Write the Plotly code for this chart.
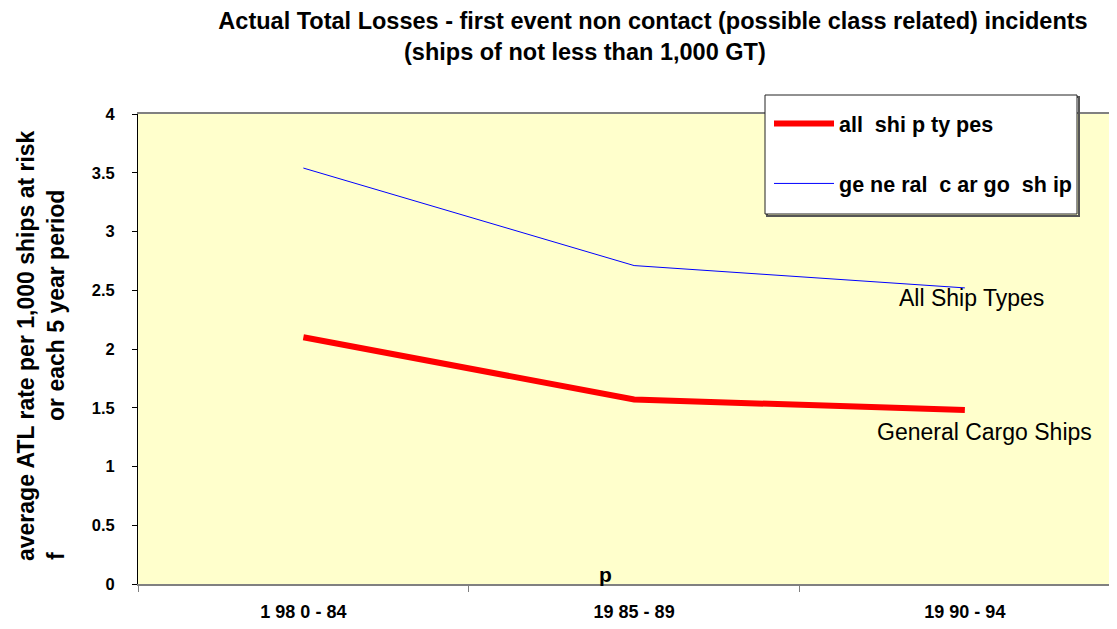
import plotly.graph_objects as go

periods = ["1 98 0 - 84", "19 85 - 89", "19 90 - 94"]
all_ship_types = [2.10, 1.57, 1.48]
general_cargo = [3.54, 2.71, 2.52]
legend_names = ["all  shi p ty pes", "ge ne ral  c ar go  sh ip"]
y_tickvals = [0, 0.5, 1, 1.5, 2, 2.5, 3, 3.5, 4]
y_ticktext = ["0", "0.5", "1", "1.5", "2", "2.5", "3", "3.5", "4"]

FONT = "Liberation Sans, Arial, sans-serif"

# The page body has an 8px margin; work in reference-pixel coords and convert.
OFF = 8
W, H = 1117 - OFF, 629 - OFF
PL, PR, PT, PB = 138, 1117, 114, 584   # plot area in reference pixels


def px(x):
    return (x - PL) / (PR - PL)


def py(y):
    return (PB - y) / (PB - PT)


fig = go.Figure()
fig.add_trace(go.Scatter(x=periods, y=all_ship_types, mode="lines", name=legend_names[0],
                         line=dict(color="#FF0000", width=6), legendgroup="a"))
fig.add_trace(go.Scatter(x=periods, y=general_cargo, mode="lines", name=legend_names[1],
                         line=dict(color="#0000FF", width=1), legendgroup="b"))

fig.update_layout(
    width=W, height=H,
    margin=dict(l=PL - OFF, r=0, t=PT - OFF, b=629 - PB),
    paper_bgcolor="white",
    plot_bgcolor="#FFFFCC",
    font=dict(family=FONT, color="black"),
    title=dict(text="<b>Actual Total Losses - first event non contact (possible class related) incidents</b>",
               x=(653 - OFF) / W, xanchor="center", xref="container",
               y=1 - (21 - OFF) / H, yanchor="middle", yref="container",
               font=dict(family=FONT, size=23.5, color="black")),
    showlegend=True,
    legend=dict(x=px(769), y=py(103), xanchor="left", yanchor="top",
                bgcolor="rgba(0,0,0,0)", borderwidth=0,
                font=dict(family=FONT, size=21.5, color="black", weight="bold"),
                itemwidth=60, tracegroupgap=29),
    xaxis=dict(type="category", range=[-0.5, 2.46], showgrid=False, zeroline=False,
               showline=True, linecolor="#808080", linewidth=2, mirror=True,
               ticks="outside", ticklen=6, tickcolor="#808080", tickson="boundaries",
               ticklabelstandoff=10,
               tickfont=dict(family=FONT, size=18, color="black", weight="bold")),
    yaxis=dict(range=[0, 4], showgrid=False, zeroline=False,
               showline=True, linecolor="black", linewidth=1,
               ticks="outside", ticklen=5, tickcolor="black",
               tickvals=y_tickvals, ticktext=y_ticktext, ticklabelstandoff=14,
               tickfont=dict(family=FONT, size=16.5, color="black", weight="bold")),
)

# legend frame
fig.add_shape(type="rect", xref="paper", yref="paper", layer="above",
              x0=px(767), x1=px(1079), y0=py(216), y1=py(97),
              line=dict(color="#555555", width=2), fillcolor="rgba(0,0,0,0)")
fig.add_shape(type="rect", xref="paper", yref="paper", layer="above",
              x0=px(765), x1=px(1077), y0=py(214), y1=py(95),
              line=dict(color="#222222", width=1), fillcolor="white")

annos = [
    dict(text="<b>(ships of not less than 1,000 GT)</b>", xref="paper", yref="paper",
         x=px(585), y=py(52), xanchor="center", yanchor="middle",
         font=dict(family=FONT, size=23.5)),
    dict(text="<b>average ATL rate per 1,000 ships at risk</b>", xref="paper", yref="paper",
         x=px(26), y=py(346), xanchor="center", yanchor="middle",
         textangle=-90, font=dict(family=FONT, size=23)),
    dict(text="<b>or each 5 year period</b>", xref="paper", yref="paper",
         x=px(56), y=py(306), xanchor="center", yanchor="middle",
         textangle=-90, font=dict(family=FONT, size=23)),
    dict(text="<b>f</b>", xref="paper", yref="paper",
         x=px(56), y=py(556), xanchor="center", yanchor="middle",
         textangle=-90, font=dict(family=FONT, size=23)),
    dict(text="<b>p</b>", xref="paper", yref="y",
         x=px(605), y=0.08, xanchor="center", yanchor="middle",
         font=dict(family=FONT, size=21)),
    dict(text="All Ship Types", xref="paper", yref="y",
         x=px(971), y=2.43, xanchor="center", yanchor="middle",
         font=dict(family=FONT, size=23)),
    dict(text="General Cargo Ships", xref="paper", yref="y",
         x=px(984), y=1.29, xanchor="center", yanchor="middle",
         font=dict(family=FONT, size=23)),
]
for a in annos:
    a["showarrow"] = False
    fig.add_annotation(**a)

fig.write_html("out.html")
